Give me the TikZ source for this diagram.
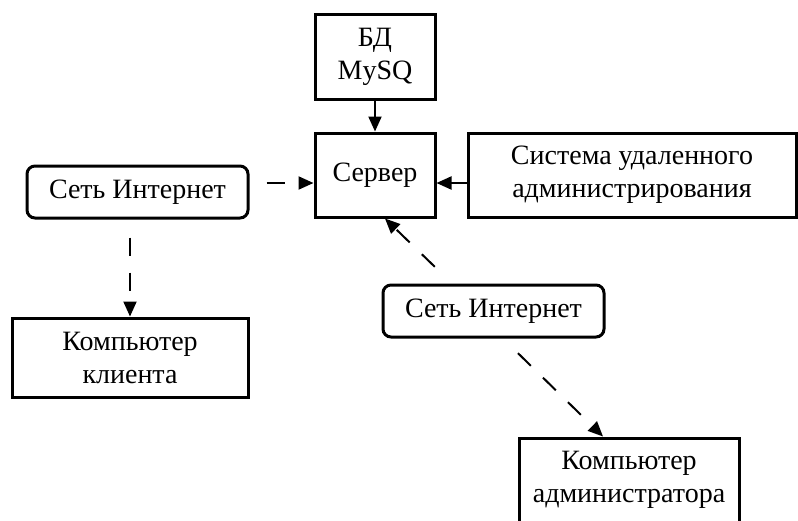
\documentclass[tikz,border=0pt]{standalone}
\usepackage{fontspec}
\setmainfont{Liberation Serif}
\usetikzlibrary{positioning,arrows.meta,calc}

\begin{document}
\begin{tikzpicture}[x=0.5pt,y=-0.5pt,
    font=\fontsize{14}{16.5}\selectfont,
    blok/.style={draw,line width=1.5pt,align=center,inner sep=0pt},
    setblok/.style={blok,rounded corners=4pt,minimum width=110.5pt,minimum height=26pt},
    strelka/.style={line width=1pt,-{Triangle[length=7.5pt,width=6.5pt]}},
    punktir/.style={strelka,dash pattern=on 9pt off 8.5pt}]
    \useasboundingbox (0,0) rectangle (798,520);

    % Bloki
    \node[blok,minimum width=60pt,minimum height=42.5pt] (bd) at (375,56.5) {БД\\MySQ};
    \node[blok,minimum width=60pt,minimum height=42pt] (server) at (375,175) {Сервер};
    \node[blok,minimum width=164pt,minimum height=42pt] (remote) at (632,175) {Система удаленного\\администрирования};
    \node[setblok] (net1) at (137.5,192) {Сеть Интернет};
    \node[blok,minimum width=118pt,minimum height=39.5pt] (client) at (130,357.5) {Компьютер\\клиента};
    \node[setblok] (net2) at (493.5,311) {Сеть Интернет};
    \node[blok,minimum width=110pt,minimum height=42pt] (admin) at (629,480) {Компьютер\\администратора};

    % Strelki
    \coordinate (vh) at ([yshift=-4pt]server.west);
    \draw[strelka] (bd) -- (server);
    \draw[strelka] (remote.west |- vh) -- ([yshift=-4pt]server.east);
    \draw[punktir,shorten <=8.5pt] (net1.east |- vh) -- (vh);
    \draw[punktir,shorten <=9pt] (net1.south -| client.north) -- (client.north);
    \draw[punktir,shorten <=12pt] ($(net2.north)+(-41.5,0)$) -- ($(server.south)+(10,0)$);
    \draw[punktir,shorten <=10.5pt] ($(net2.south)+(9.5,0)$) -- ($(admin.north)+(-26,0)$);
\end{tikzpicture}
\end{document}
